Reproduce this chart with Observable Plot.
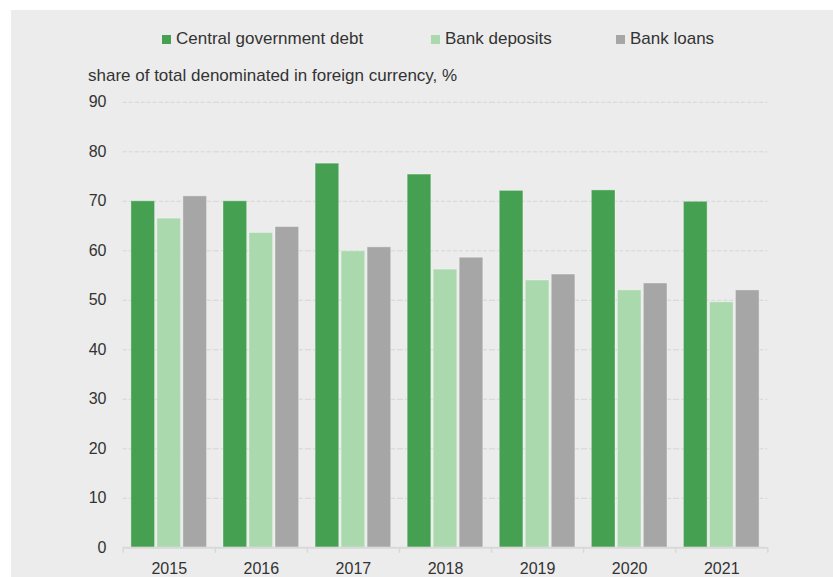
<!DOCTYPE html>
<html>
<head>
<meta charset="utf-8">
<script src="https://cdn.jsdelivr.net/npm/d3@7"></script>
<script src="https://cdn.jsdelivr.net/npm/@observablehq/plot@0.6"></script>
<style>
  html, body { margin: 0; padding: 0; background: #ffffff; width: 833px; height: 577px; overflow: hidden; }
  #bg { position: absolute; left: 11px; top: 10px; width: 822px; height: 567px; background: #ececec; }
  .txt { position: absolute; font-family: "Liberation Sans", Arial, sans-serif; font-size: 17px; line-height: 17px; color: #333333; white-space: nowrap; }
  .sw { position: absolute; width: 9px; height: 9px; }
  #chart { position: absolute; left: 0; top: 85px; }
</style>
</head>
<body>
<div id="bg"></div>
<div id="legend"></div>
<div class="txt" id="subtitle" style="left:88px; top:67px;"></div>
<div id="chart"></div>
<script>
const years = ["2015", "2016", "2017", "2018", "2019", "2020", "2021"];
const series = ["Central government debt", "Bank deposits", "Bank loans"];
const govDebt = [70.0, 70.0, 77.6, 75.4, 72.1, 72.2, 69.9];
const deposits = [66.5, 63.6, 59.9, 56.2, 54.0, 52.0, 49.6];
const loans = [71.0, 64.8, 60.7, 58.6, 55.2, 53.4, 52.0];
const yTicks = [0, 10, 20, 30, 40, 50, 60, 70, 80, 90];
const colors = ["#46a052", "#a9d9ac", "#a6a6a6"];
const subtitle = "share of total denominated in foreign currency, %";

// Build table
const values = [govDebt, deposits, loans];
const data = [];
years.forEach((yr, i) => series.forEach((s, j) => data.push({year: yr, series: s, value: values[j][i]})));

// Legend (HTML, above the SVG)
const legendX = [162, 431, 616];
const legend = document.getElementById("legend");
series.forEach((s, j) => {
  const sw = document.createElement("div");
  sw.className = "sw";
  sw.style.left = legendX[j] + "px";
  sw.style.top = "35px";
  sw.style.background = colors[j];
  legend.appendChild(sw);
  const t = document.createElement("div");
  t.className = "txt";
  t.style.left = (legendX[j] + 14) + "px";
  t.style.top = "30px";
  t.textContent = s;
  legend.appendChild(t);
});
document.getElementById("subtitle").textContent = subtitle;

// Layout
const W = 833, H = 492;
const mL = 122.7, mR = 65.7, mT = 16.8, mB = 29.7;
const facetW = (W - mL - mR) / years.length;
const pIn = 0.09, pOut = 0.316;
const step = facetW / (series.length - pIn + 2 * pOut);
const bw = step * (1 - pIn);
const firstCenter = pOut * step + bw / 2;
const frameH = H - mT - mB;

const chart = Plot.plot({
  width: W,
  height: H,
  marginLeft: mL,
  marginRight: mR,
  marginTop: mT,
  marginBottom: mB,
  style: {fontFamily: "Liberation Sans, Arial, sans-serif", fontSize: "16px", color: "#333333", background: "transparent"},
  fx: {domain: years, padding: 0, round: false, axis: "bottom", tickSize: 0, tickPadding: 14.5, label: null},
  x: {domain: series, paddingInner: pIn, paddingOuter: pOut, round: false, axis: null},
  y: {domain: [0, 90], ticks: yTicks, tickSize: 0, tickPadding: 16.7, label: null},
  color: {domain: series, range: colors},
  marks: [
    Plot.ruleY(yTicks.filter(d => d > 0), {stroke: "#d6d6d6", strokeWidth: 1, strokeDasharray: "4,2"}),
    Plot.barY(data, {fx: "year", x: "series", y: "value", fill: "series", stroke: "#ffffff", strokeOpacity: 0.35, strokeWidth: 1}),
    Plot.ruleY([0], {stroke: "#d9d9d9", strokeWidth: 2}),
    Plot.ruleX(years, {fx: d => d, x: () => series[0], dx: -firstCenter, stroke: "#d9d9d9", strokeWidth: 1.5, insetTop: frameH, insetBottom: -5.5}),
    Plot.ruleX(years.slice(-1), {fx: d => d, x: () => series[series.length - 1], dx: firstCenter, stroke: "#d9d9d9", strokeWidth: 1.5, insetTop: frameH, insetBottom: -5.5})
  ]
});
document.getElementById("chart").appendChild(chart);
</script>
</body>
</html>
